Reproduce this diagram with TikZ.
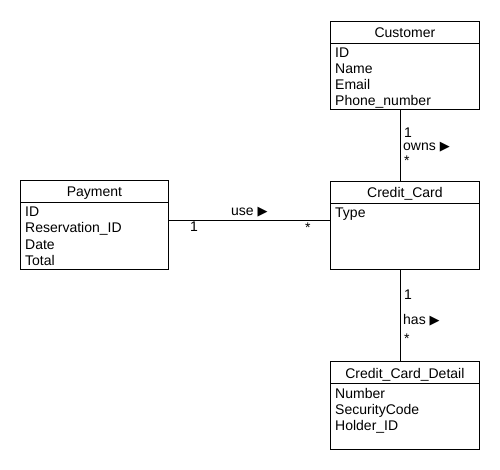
\documentclass[tikz,border=0pt]{standalone}
\usepackage{fontspec}
\setmainfont{Liberation Sans}
\newfontfamily\symfont{DejaVu Sans}
\usetikzlibrary{calc}
\newcommand{\tri}{{\symfont\fontsize{13}{13}\selectfont ▶}}
\begin{document}
\begin{tikzpicture}[x=1pt,y=1pt,
  classbox/.style={draw,line width=0.8pt,minimum width=149pt,inner sep=0pt,anchor=north west},
  txt/.style={font=\fontsize{14}{16}\selectfont,inner sep=0pt},
  conn/.style={line width=0.8pt}]
\useasboundingbox (0,0) rectangle (500,-470);
\fill[white] (0,0) rectangle (500,-470);
% Customer
\node[classbox,minimum height=88pt] (cust) at (330,-21) {};
\draw[conn] ($(cust.north west)+(0,-22)$) -- ($(cust.north east)+(0,-22)$);
\node[txt,anchor=base] (custT) at ($(cust.north)+(0,-17)$) {Customer};
\node[txt,anchor=base west] (c1) at ($(cust.north west)+(5,-37)$) {ID};
\node[txt,anchor=base west] (c2) at ($(c1.base west)+(0,-16)$) {Name};
\node[txt,anchor=base west] (c3) at ($(c2.base west)+(0,-16)$) {Email};
\node[txt,anchor=base west] (c4) at ($(c3.base west)+(0,-16)$) {Phone\_number};
% Payment
\node[classbox,minimum width=148pt,minimum height=89pt] (pay) at (20,-180) {};
\draw[conn] ($(pay.north west)+(0,-22)$) -- ($(pay.north east)+(0,-22)$);
\node[txt,anchor=base] (payT) at ($(pay.north)+(0,-17)$) {Payment};
\node[txt,anchor=base west] (p1) at ($(pay.north west)+(5,-37)$) {ID};
\node[txt,anchor=base west] (p2) at ($(p1.base west)+(0,-16)$) {Reservation\_ID};
\node[txt,anchor=base west] (p3) at ($(p2.base west)+(0,-16)$) {Date};
\node[txt,anchor=base west] (p4) at ($(p3.base west)+(0,-16)$) {Total};
% Credit_Card
\node[classbox,minimum height=88pt] (card) at (330,-181) {};
\draw[conn] ($(card.north west)+(0,-22)$) -- ($(card.north east)+(0,-22)$);
\node[txt,anchor=base] (cardT) at ($(card.north)+(0,-17)$) {Credit\_Card};
\node[txt,anchor=base west] (k1) at ($(card.north west)+(5,-37)$) {Type};
% Credit_Card_Detail
\node[classbox,minimum height=88pt] (det) at (330,-361) {};
\draw[conn] ($(det.north west)+(0,-22)$) -- ($(det.north east)+(0,-22)$);
\node[txt,anchor=base] (detT) at ($(det.north)+(0,-17)$) {Credit\_Card\_Detail};
\node[txt,anchor=base west] (d1) at ($(det.north west)+(5,-37)$) {Number};
\node[txt,anchor=base west] (d2) at ($(d1.base west)+(0,-16)$) {SecurityCode};
\node[txt,anchor=base west] (d3) at ($(d2.base west)+(0,-16)$) {Holder\_ID};
% connectors
\coordinate (cs) at ($(cust.south)+(-4.5,0)$);
\coordinate (cn) at ($(card.north)+(-4.5,0)$);
\draw[conn] (cs) -- (cn);
\coordinate (ksb) at ($(card.south)+(-4.5,0)$);
\coordinate (dn) at ($(det.north)+(-4.5,0)$);
\draw[conn] (ksb) -- (dn);
\coordinate (pe) at ($(pay.east)+(0,4.5)$);
\coordinate (kw) at (card.west |- pe);
\draw[conn] (pe) -- (kw);
% labels
\node[txt,anchor=base west] (l1) at (404,-138) {1};
\node[txt,anchor=base west] (l2) at (403,-151) {owns \tri};
\node[txt,anchor=base west] (l3) at (404,-166) {*};
\node[txt,anchor=base west] (m1) at (404,-299) {1};
\node[txt,anchor=base west] (m2) at (403,-324) {has \tri};
\node[txt,anchor=base west] (m3) at (404,-343) {*};
\node[txt,anchor=base west] (u1) at (231,-216) {use \tri};
\node[txt,anchor=base west] (u2) at (190,-232) {1};
\node[txt,anchor=base west] (u3) at (305,-233) {*};
\end{tikzpicture}
\end{document}
